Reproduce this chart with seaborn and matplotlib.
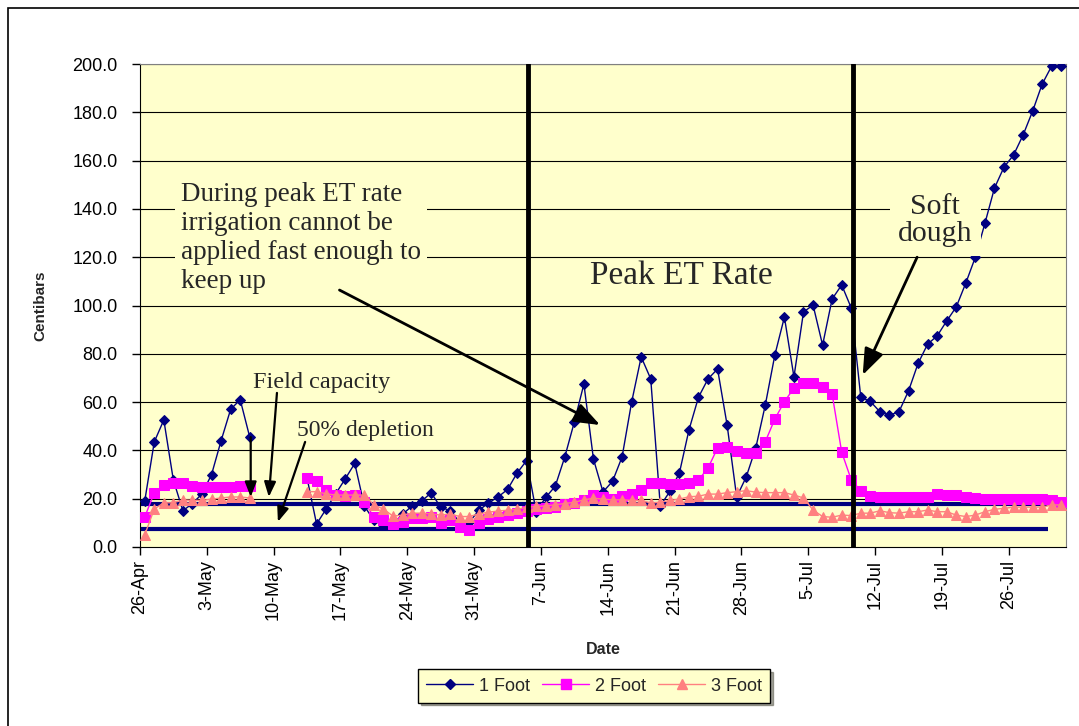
import numpy as np
import pandas as pd
import seaborn as sns
import matplotlib.pyplot as plt
from matplotlib.lines import Line2D
from matplotlib.patches import Rectangle

nan = np.nan

# daily readings, 26-Apr .. 31-Jul (97 days), gaps = no reading
foot1 = [19, 43.5, 52.6, 27.7, 15, 18, 22, 30, 44, 57, 61, 45.5,
         nan, nan, nan, nan, nan,
         28.6, 9.5, 15.7, 22, 28.2, 34.6, 17, 11, 9, 9.5, 13.5, 17, 19, 22.4,
         16.5, 15, 10.2, 10.3, 15.2, 18.2, 20.7, 23.8, 30.6, 35.8, 14.6, 20.5,
         25.2, 37.3, 51.8, 67.5, 36.4, 22.8, 27.2, 37.3, 60, 78.7, 69.6, 17,
         23, 30.6, 48.4, 62, 69.6, 73.7, 50.5, 20.7, 29, 41, 58.8, 79.5, 95.2,
         70.4, 97.3, 100.2, 83.6, 102.7, 108.5, 99, 62, 60.3, 56, 54.6, 56,
         64.6, 76, 84, 87.4, 93.6, 99.4, 109.3, 120, 134, 148.6, 157.3, 162.3,
         170.6, 180.5, 191.7, 199.2, 199.2]
foot2 = [12.4, 22.4, 25.7, 26.5, 26.5, 25.3, 24.8, 24.8, 24.8, 24.8, 25.3, 25.3,
         nan, nan, nan, nan, nan,
         28.4, 27.3, 23.6, 21.5, 21.3, 21.5, 18.8, 12.4, 11.2, 9.5, 10.5, 12,
         12, 12.4, 10, 11.2, 8.4, 7.2, 10, 11.6, 12.4, 13.2, 14.2, 15, 15.7, 16,
         16.7, 17.8, 18.4, 19.5, 21.5, 20.8, 19.8, 21, 22, 23.6, 26.6, 26.6, 26,
         26, 26.6, 27.7, 32.7, 41, 41.4, 39.9, 38.9, 38.9, 43.6, 53, 60.2, 65.8,
         67.9, 67.9, 66.4, 63.3, 39.3, 27.8, 23.3, 21.1, 20.6, 20.6, 20.6, 20.6,
         20.6, 20.8, 21.9, 21.6, 21.6, 20.5, 20.2, 19.9, 19.9, 19.9, 19.8, 19.8,
         19.8, 19.8, 19.5, 18.6]
foot3 = [5, 15.7, 18.3, 18.3, 19.5, 19.3, 19.3, 19.8, 20.3, 20.7, 20.7, 20.3,
         nan, nan, nan, nan, nan,
         22.9, 22.9, 22, 21.5, 21.5, 21.5, 21.5, 17.4, 15.7, 12.8, 13.2, 14, 14,
         13.7, 13.2, 13.7, 12.6, 12.6, 13.7, 14.4, 14.9, 15.2, 15.6, 16.5, 16.8,
         17, 17.5, 18, 18.5, 19.5, 20.2, 19.8, 19.5, 19.5, 19.3, 19.3, 18.2,
         18.5, 19.3, 19.8, 20.8, 21, 21.9, 21.9, 22.5, 22.9, 23.3, 22.7, 22.5,
         22.5, 22.5, 21.5, 20.3, 15.3, 12.6, 12.3, 13.2, 13, 14, 14, 15, 14.2,
         14, 14.6, 14.6, 15.3, 14.6, 14.6, 13.2, 12.6, 13.2, 14.6, 15.6, 16,
         16.5, 16.5, 16.5, 16.5, 17.4, 17.4]

tick_labels = ['26-Apr', '3-May', '10-May', '17-May', '24-May', '31-May', '7-Jun',
               '14-Jun', '21-Jun', '28-Jun', '5-Jul', '12-Jul', '19-Jul', '26-Jul']
field_capacity = 18.0
depletion_50 = 7.3
stage_lines = [40.6, 74.65]   # start / end of peak ET period (day index)

series = {'1 Foot': foot1, '2 Foot': foot2, '3 Foot': foot3}
styles = {'1 Foot': dict(color='#000080', marker='D', markersize=5.5),
          '2 Foot': dict(color='#FF00FF', marker='s', markersize=7.5),
          '3 Foot': dict(color='#FF8080', marker='^', markersize=7.5)}

rows = []
for name, vals in series.items():
    for i, v in enumerate(vals):
        rows.append((name, i + 0.5, v))
df = pd.DataFrame(rows, columns=['Depth', 'Day', 'Centibars'])

sns.set_style('ticks')
plt.rcParams['font.family'] = ['Liberation Sans', 'DejaVu Sans']

fig = plt.figure(figsize=(10.79, 7.26), dpi=100)
ax = fig.add_axes([0.1297, 0.2466, 0.8583, 0.6652])
ax.set_facecolor('#FFFFCC')

for y in np.arange(20, 201, 20):
    ax.axhline(y, color='black', lw=0.8, zorder=1)

ax.hlines([field_capacity, depletion_50], 0, 95.1, color='#000080', lw=3, zorder=2)

handles = []
for name in series:
    sub = df[df.Depth == name].copy()
    sub['seg'] = sub['Centibars'].isna().cumsum()
    sub = sub.dropna()
    for _, seg in sub.groupby('seg'):
        sns.lineplot(data=seg, x='Day', y='Centibars', ax=ax, lw=1.0,
                     color=styles[name]['color'], marker=styles[name]['marker'],
                     markersize=styles[name]['markersize'],
                     markeredgecolor=styles[name]['color'], zorder=3)
    handles.append(Line2D([], [], lw=1.0, **styles[name], label=name))

for xv in stage_lines:
    ax.axvline(xv, color='black', lw=3.5, zorder=4)

ax.set_xlim(0, 97)
ax.set_ylim(0, 200)
ax.set_yticks(np.arange(0, 201, 20))
ax.set_yticklabels([f'{v:.1f}' for v in np.arange(0, 201, 20)], fontsize=13)
ax.set_xticks(np.arange(0, 7 * len(tick_labels), 7))
ax.set_xticklabels(tick_labels, rotation=90, fontsize=13)
ax.tick_params(axis='both', direction='out', length=6, width=1, colors='black')
ax.tick_params(axis='y', pad=10)
ax.set_xlabel('Date', fontsize=11.5, fontweight='bold', labelpad=16)
ax.set_ylabel('Centibars', fontsize=11, fontweight='bold', labelpad=18)
for s in ['top', 'right']:
    ax.spines[s].set_color('#808080')
for s in ['left', 'bottom']:
    ax.spines[s].set_color('black')
if ax.get_legend():
    ax.get_legend().remove()

serif = ['Liberation Serif', 'DejaVu Serif']
bg = dict(facecolor='#FFFFCC', edgecolor='none', pad=4)
ax.text(4.3, 151, 'During peak ET rate\nirrigation cannot be\napplied fast enough to\nkeep up',
        family=serif, fontsize=19.5, ha='left', va='top', bbox=bg, zorder=5)
ax.text(56.75, 112.5, 'Peak ET Rate', family=serif, fontsize=24, ha='center', va='center', zorder=5)
ax.text(83.3, 135, 'Soft\ndough', family=serif, fontsize=21.5, ha='center', va='center',
        linespacing=1.05, bbox=dict(facecolor='#FFFFCC', edgecolor='none', pad=6), zorder=5)
ax.text(11.8, 68.3, 'Field capacity', family=serif, fontsize=17.5, ha='left', va='center', zorder=5)
ax.text(16.4, 48.4, '50% depletion', family=serif, fontsize=17, ha='left', va='center', zorder=5)

arr = dict(arrowstyle='-|>,head_length=0.9,head_width=0.35', color='black', lw=1.6,
           shrinkA=0, shrinkB=0)
big = dict(arrowstyle='-|>,head_length=1.6,head_width=0.6', color='black', lw=2,
           shrinkA=0, shrinkB=0)
ax.annotate('', xy=(48.2, 50.5), xytext=(20.9, 106.4), arrowprops=big, zorder=6)
ax.annotate('', xy=(75.7, 71.2), xytext=(81.4, 120), arrowprops=big, zorder=6)
ax.annotate('', xy=(13.5, 20.7), xytext=(14.35, 63.8), arrowprops=arr, zorder=6)
ax.annotate('', xy=(14.45, 10.4), xytext=(17.3, 43.5), arrowprops=arr, zorder=6)
ax.annotate('', xy=(11.6, 20.7), xytext=(11.6, 45.5), arrowprops=arr, zorder=6)

leg = fig.legend(handles=handles, loc='center', bbox_to_anchor=(0.5505, 0.055), ncol=3,
                 fontsize=13, frameon=True, fancybox=False, shadow=True,
                 handlelength=2.6, columnspacing=0.7, handletextpad=0.3,
                 borderpad=0.45)
leg.get_frame().set_facecolor('#FFFFCC')
leg.get_frame().set_edgecolor('black')

fig.patches.append(Rectangle((8 / 1079, -0.01), 1.0, 1 - 8 / 726 + 0.01, transform=fig.transFigure,
                             fill=False, edgecolor='black', lw=1.2))

fig.savefig('out.png', dpi=100)
